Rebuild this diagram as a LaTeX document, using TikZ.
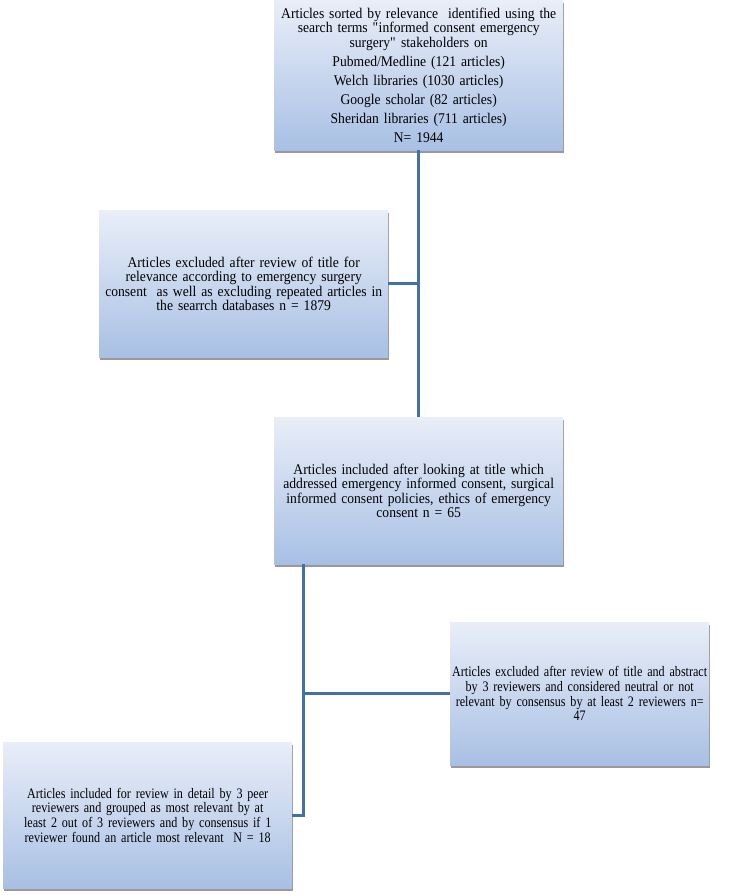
\documentclass[tikz,border=0pt]{standalone}
\usepackage{fontspec}
\setmainfont{Liberation Serif}
\newfontfamily\tallfont[FakeStretch=0.92]{Liberation Serif}
\newfontfamily\condfont[FakeStretch=0.835]{Liberation Serif}
\usepackage{tikz}
\usetikzlibrary{positioning, shadows, calc}

\definecolor{boxtop}{HTML}{E9EEF8}
\definecolor{boxbottom}{HTML}{A8C0E4}
\definecolor{linkblue}{HTML}{4470A8}

\begin{document}
\begin{tikzpicture}[x=1pt, y=-1pt,
    box/.style={rectangle, top color=boxtop, bottom color=boxbottom, text centered, inner sep=1pt,
        drop shadow={shadow xshift=0.6pt, shadow yshift=-2.5pt, fill=black!40, opacity=1}},
    wide/.style={box, minimum width=289pt, text width=287pt, font=\tallfont\fontsize{14.8}{14.5}\selectfont},
    cond/.style={box, font=\condfont\fontsize{14.5}{14.6}\selectfont},
    link/.style={draw=linkblue, line width=3pt},
    point/.style={coordinate}]

    \useasboundingbox (0,0) rectangle (742,895);

    \node (search) [wide, minimum height=150pt, anchor=north west] at (274,0)
        {Articles sorted by relevance\ \ identified using the\\ search terms \textquotedbl informed consent emergency\\ surgery\textquotedbl{} stakeholders on\\[4.5pt]
        Pubmed/Medline (121 articles)\\[4.5pt] Welch libraries (1030 articles)\\[4.5pt]
        Google scholar (82 articles)\\[4.5pt] Sheridan libraries (711 articles)\\[4.5pt] N= 1944};
    \node (excl_title) [wide, minimum height=147pt, anchor=north west] at (99,210)
        {Articles excluded after review of title for\\ relevance according to emergency surgery\\ consent\ \ as well as excluding repeated articles in\\ the searrch databases n = 1879};
    \node (incl_title) [wide, minimum height=147pt, anchor=north west] at (274,417)
        {Articles included after looking at title which\\ addressed emergency informed consent, surgical\\ informed consent policies, ethics of emergency\\ consent n = 65};
    \node (excl_abs) [cond, text width=257pt, minimum height=143pt, anchor=north west] at (450,622)
        {Articles excluded after review of title and abstract\\ by 3 reviewers and considered neutral or not\\ relevant by consensus by at least 2 reviewers n=\\ 47};
    \node (incl_final) [cond, text width=287pt, minimum height=146pt, anchor=north west] at (3,742)
        {Articles included for review in detail by 3 peer\\ reviewers and grouped as most relevant by at\\ least 2 out of 3 reviewers and by consensus if 1\\ reviewer found an article most relevant\ \ N = 18};
    \node (trunk) [point] at (303,564) {};

    \draw [link] (search.south) -- (incl_title.north);
    \draw [link] (excl_title.east) -- (excl_title.east -| search.south);
    \draw [link] (trunk) |- (incl_final.east);
    \draw [link] (excl_abs.west) -- (excl_abs.west -| trunk);

\end{tikzpicture}
\end{document}
